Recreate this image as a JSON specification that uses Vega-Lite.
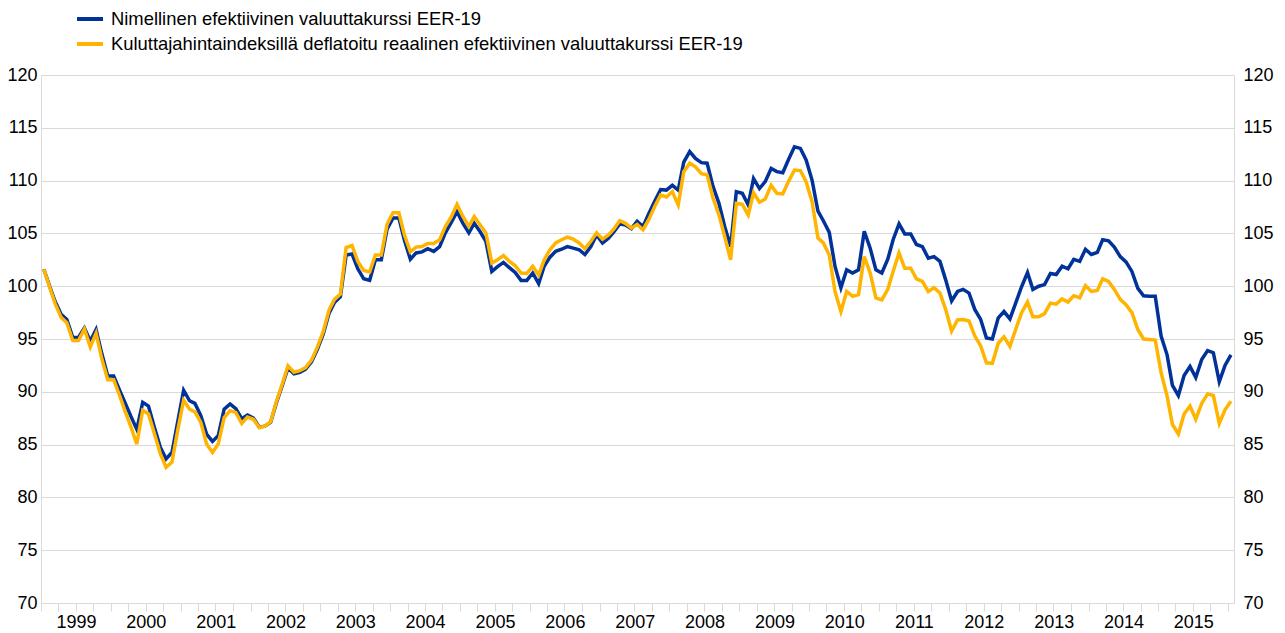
{
"$schema": "https://vega.github.io/schema/vega-lite/v6.json",
"width": 1193, "height": 528,
"autosize": {"type": "none"},
"padding": {"left": 41, "top": 75, "right": 51, "bottom": 30},
"background": "white",
"config": {"view": {"stroke": null}, "font": "Liberation Sans",
  "axis": {"labelFont": "Liberation Sans", "labelFontSize": 18, "labelColor": "#000", "title": null},
  "legend": {"labelFont": "Liberation Sans"}},
"data": {"values": [
{"d":"1999-01-16","n":101.6,"r":101.6},{"d":"1999-02-16","n":99.95,"r":99.85},{"d":"1999-03-16","n":98.55,"r":98.35},{"d":"1999-04-16","n":97.35,"r":97.05},{"d":"1999-05-16","n":96.85,"r":96.55},{"d":"1999-06-16","n":95.15,"r":94.85},{"d":"1999-07-16","n":95.15,"r":94.85},{"d":"1999-08-16","n":96.05,"r":95.95},{"d":"1999-09-16","n":94.8,"r":94.25},{"d":"1999-10-16","n":95.9,"r":95.55},{"d":"1999-11-16","n":93.55,"r":93.05},{"d":"1999-12-16","n":91.5,"r":91.15},
{"d":"2000-01-16","n":91.5,"r":91.15},{"d":"2000-02-16","n":90.15,"r":89.65},{"d":"2000-03-16","n":88.95,"r":88.15},{"d":"2000-04-16","n":87.65,"r":86.65},{"d":"2000-05-16","n":86.45,"r":85.05},{"d":"2000-06-16","n":89.0,"r":88.25},{"d":"2000-07-16","n":88.65,"r":87.9},{"d":"2000-08-16","n":86.65,"r":86.05},{"d":"2000-09-16","n":84.75,"r":84.15},{"d":"2000-10-16","n":83.65,"r":82.85},{"d":"2000-11-16","n":84.25,"r":83.35},{"d":"2000-12-16","n":87.15,"r":86.35},
{"d":"2001-01-16","n":90.15,"r":89.2},{"d":"2001-02-16","n":89.15,"r":88.35},{"d":"2001-03-16","n":88.9,"r":88.1},{"d":"2001-04-16","n":87.75,"r":87.1},{"d":"2001-05-16","n":86.0,"r":85.05},{"d":"2001-06-16","n":85.3,"r":84.25},{"d":"2001-07-16","n":85.85,"r":85.05},{"d":"2001-08-16","n":88.35,"r":87.55},{"d":"2001-09-16","n":88.85,"r":88.2},{"d":"2001-10-16","n":88.4,"r":88.05},{"d":"2001-11-16","n":87.45,"r":87.0},{"d":"2001-12-16","n":87.8,"r":87.6},
{"d":"2002-01-16","n":87.5,"r":87.4},{"d":"2002-02-16","n":86.65,"r":86.6},{"d":"2002-03-16","n":86.75,"r":86.75},{"d":"2002-04-16","n":87.1,"r":87.15},{"d":"2002-05-16","n":88.95,"r":89.05},{"d":"2002-06-16","n":90.6,"r":90.75},{"d":"2002-07-16","n":92.25,"r":92.45},{"d":"2002-08-16","n":91.7,"r":91.85},{"d":"2002-09-16","n":91.85,"r":92.0},{"d":"2002-10-16","n":92.15,"r":92.3},{"d":"2002-11-16","n":92.85,"r":93.0},{"d":"2002-12-16","n":94.0,"r":94.2},
{"d":"2003-01-16","n":95.45,"r":95.7},{"d":"2003-02-16","n":97.45,"r":97.75},{"d":"2003-03-16","n":98.45,"r":98.75},{"d":"2003-04-16","n":99.0,"r":99.25},{"d":"2003-05-16","n":102.95,"r":103.65},{"d":"2003-06-16","n":103.05,"r":103.85},{"d":"2003-07-16","n":101.65,"r":102.35},{"d":"2003-08-16","n":100.7,"r":101.5},{"d":"2003-09-16","n":100.55,"r":101.35},{"d":"2003-10-16","n":102.5,"r":102.95},{"d":"2003-11-16","n":102.5,"r":102.95},{"d":"2003-12-16","n":105.4,"r":105.85},
{"d":"2004-01-16","n":106.45,"r":106.95},{"d":"2004-02-16","n":106.45,"r":106.95},{"d":"2004-03-16","n":104.35,"r":104.85},{"d":"2004-04-16","n":102.55,"r":103.25},{"d":"2004-05-16","n":103.15,"r":103.7},{"d":"2004-06-16","n":103.25,"r":103.75},{"d":"2004-07-16","n":103.55,"r":104.05},{"d":"2004-08-16","n":103.3,"r":104.05},{"d":"2004-09-16","n":103.75,"r":104.4},{"d":"2004-10-16","n":105.05,"r":105.65},{"d":"2004-11-16","n":106.05,"r":106.55},{"d":"2004-12-16","n":107.05,"r":107.75},
{"d":"2005-01-16","n":105.95,"r":106.6},{"d":"2005-02-16","n":105.05,"r":105.65},{"d":"2005-03-16","n":105.95,"r":106.6},{"d":"2005-04-16","n":105.15,"r":105.8},{"d":"2005-05-16","n":104.25,"r":105.05},{"d":"2005-06-16","n":101.4,"r":102.2},{"d":"2005-07-16","n":101.85,"r":102.5},{"d":"2005-08-16","n":102.25,"r":102.9},{"d":"2005-09-16","n":101.75,"r":102.35},{"d":"2005-10-16","n":101.3,"r":101.95},{"d":"2005-11-16","n":100.55,"r":101.25},{"d":"2005-12-16","n":100.55,"r":101.2},
{"d":"2006-01-16","n":101.25,"r":101.9},{"d":"2006-02-16","n":100.25,"r":101.05},{"d":"2006-03-16","n":101.85,"r":102.45},{"d":"2006-04-16","n":102.75,"r":103.45},{"d":"2006-05-16","n":103.3,"r":104.1},{"d":"2006-06-16","n":103.5,"r":104.4},{"d":"2006-07-16","n":103.75,"r":104.65},{"d":"2006-08-16","n":103.6,"r":104.45},{"d":"2006-09-16","n":103.45,"r":104.1},{"d":"2006-10-16","n":103.0,"r":103.55},{"d":"2006-11-16","n":103.75,"r":104.25},{"d":"2006-12-16","n":104.85,"r":105.05},
{"d":"2007-01-16","n":104.1,"r":104.45},{"d":"2007-02-16","n":104.55,"r":104.85},{"d":"2007-03-16","n":105.15,"r":105.4},{"d":"2007-04-16","n":105.9,"r":106.2},{"d":"2007-05-16","n":105.8,"r":105.95},{"d":"2007-06-16","n":105.45,"r":105.5},{"d":"2007-07-16","n":106.15,"r":105.85},{"d":"2007-08-16","n":105.65,"r":105.35},{"d":"2007-09-16","n":106.9,"r":106.35},{"d":"2007-10-16","n":108.05,"r":107.55},{"d":"2007-11-16","n":109.15,"r":108.65},{"d":"2007-12-16","n":109.1,"r":108.45},
{"d":"2008-01-16","n":109.55,"r":108.95},{"d":"2008-02-16","n":109.1,"r":107.7},{"d":"2008-03-16","n":111.75,"r":110.85},{"d":"2008-04-16","n":112.75,"r":111.65},{"d":"2008-05-16","n":112.1,"r":111.3},{"d":"2008-06-16","n":111.7,"r":110.65},{"d":"2008-07-16","n":111.65,"r":110.55},{"d":"2008-08-16","n":109.45,"r":108.35},{"d":"2008-09-16","n":107.85,"r":106.75},{"d":"2008-10-16","n":105.65,"r":104.7},{"d":"2008-11-16","n":103.75,"r":102.5},{"d":"2008-12-16","n":108.95,"r":107.85},
{"d":"2009-01-16","n":108.8,"r":107.75},{"d":"2009-02-16","n":107.7,"r":106.75},{"d":"2009-03-16","n":110.2,"r":108.85},{"d":"2009-04-16","n":109.25,"r":107.95},{"d":"2009-05-16","n":109.9,"r":108.25},{"d":"2009-06-16","n":111.15,"r":109.55},{"d":"2009-07-16","n":110.85,"r":108.8},{"d":"2009-08-16","n":110.75,"r":108.75},{"d":"2009-09-16","n":112.05,"r":109.95},{"d":"2009-10-16","n":113.2,"r":111.0},{"d":"2009-11-16","n":113.05,"r":110.95},{"d":"2009-12-16","n":111.95,"r":109.9},
{"d":"2010-01-16","n":110.05,"r":108.0},{"d":"2010-02-16","n":107.1,"r":104.55},{"d":"2010-03-16","n":106.2,"r":104.1},{"d":"2010-04-16","n":105.1,"r":102.95},{"d":"2010-05-16","n":101.9,"r":99.5},{"d":"2010-06-16","n":99.85,"r":97.6},{"d":"2010-07-16","n":101.55,"r":99.5},{"d":"2010-08-16","n":101.25,"r":99.05},{"d":"2010-09-16","n":101.55,"r":99.2},{"d":"2010-10-16","n":105.2,"r":102.8},{"d":"2010-11-16","n":103.6,"r":101.25},{"d":"2010-12-16","n":101.55,"r":98.9},
{"d":"2011-01-16","n":101.25,"r":98.7},{"d":"2011-02-16","n":102.55,"r":99.7},{"d":"2011-03-16","n":104.4,"r":101.4},{"d":"2011-04-16","n":105.9,"r":103.15},{"d":"2011-05-16","n":104.95,"r":101.7},{"d":"2011-06-16","n":104.95,"r":101.7},{"d":"2011-07-16","n":103.95,"r":100.7},{"d":"2011-08-16","n":103.75,"r":100.45},{"d":"2011-09-16","n":102.65,"r":99.5},{"d":"2011-10-16","n":102.8,"r":99.85},{"d":"2011-11-16","n":102.35,"r":99.35},{"d":"2011-12-16","n":100.6,"r":97.8},
{"d":"2012-01-16","n":98.6,"r":95.75},{"d":"2012-02-16","n":99.5,"r":96.8},{"d":"2012-03-16","n":99.7,"r":96.85},{"d":"2012-04-16","n":99.35,"r":96.7},{"d":"2012-05-16","n":97.8,"r":95.3},{"d":"2012-06-16","n":96.85,"r":94.35},{"d":"2012-07-16","n":95.1,"r":92.75},{"d":"2012-08-16","n":95.0,"r":92.7},{"d":"2012-09-16","n":97.0,"r":94.6},{"d":"2012-10-16","n":97.6,"r":95.2},{"d":"2012-11-16","n":96.9,"r":94.3},{"d":"2012-12-16","n":98.4,"r":95.9},
{"d":"2013-01-16","n":99.95,"r":97.5},{"d":"2013-02-16","n":101.3,"r":98.5},{"d":"2013-03-16","n":99.7,"r":97.1},{"d":"2013-04-16","n":100.0,"r":97.1},{"d":"2013-05-16","n":100.15,"r":97.4},{"d":"2013-06-16","n":101.2,"r":98.4},{"d":"2013-07-16","n":101.1,"r":98.3},{"d":"2013-08-16","n":101.9,"r":98.8},{"d":"2013-09-16","n":101.65,"r":98.5},{"d":"2013-10-16","n":102.55,"r":99.1},{"d":"2013-11-16","n":102.35,"r":98.9},{"d":"2013-12-16","n":103.5,"r":100.05},
{"d":"2014-01-16","n":103.0,"r":99.5},{"d":"2014-02-16","n":103.2,"r":99.6},{"d":"2014-03-16","n":104.4,"r":100.7},{"d":"2014-04-16","n":104.3,"r":100.45},{"d":"2014-05-16","n":103.7,"r":99.7},{"d":"2014-06-16","n":102.8,"r":98.75},{"d":"2014-07-16","n":102.3,"r":98.25},{"d":"2014-08-16","n":101.4,"r":97.5},{"d":"2014-09-16","n":99.8,"r":95.9},{"d":"2014-10-16","n":99.1,"r":95.0},{"d":"2014-11-16","n":99.05,"r":94.95},{"d":"2014-12-16","n":99.05,"r":94.9},
{"d":"2015-01-16","n":95.25,"r":91.8},{"d":"2015-02-16","n":93.5,"r":89.6},{"d":"2015-03-16","n":90.6,"r":86.9},{"d":"2015-04-16","n":89.65,"r":86.0},{"d":"2015-05-16","n":91.55,"r":87.9},{"d":"2015-06-16","n":92.4,"r":88.65},{"d":"2015-07-16","n":91.35,"r":87.4},{"d":"2015-08-16","n":93.05,"r":88.9},{"d":"2015-09-16","n":93.9,"r":89.8},{"d":"2015-10-16","n":93.7,"r":89.65},{"d":"2015-11-16","n":90.95,"r":87.0},{"d":"2015-12-16","n":92.5,"r":88.3},
{"d":"2016-01-16","n":93.5,"r":89.1}
]},
"transform": [{"fold": ["n", "r"], "as": ["s", "v"]}],
"layer": [
 {"transform": [{"filter": "datum.s === 'n'"}],
  "mark": {"type": "line", "strokeWidth": 3.5},
  "encoding": {
   "x": {"field": "d", "type": "temporal",
     "scale": {"type": "utc", "domain": [{"year": 1999, "month": 1, "date": 1, "utc": true}, {"year": 2016, "month": 2, "date": 1, "utc": true}]},
     "axis": {"tickCount": {"interval": "month", "step": 3},
       "labelExpr": "utcmonth(datum.value) === 0 && utcyear(datum.value) < 2016 ? '' + utcyear(datum.value) : ''",
       "labelOffset": 35, "labelFlush": false, "labelOverlap": false, "labelBound": false,
       "grid": false, "ticks": true, "tickSize": 8, "tickColor": "#d9d9d9", "domainColor": "#d9d9d9",
       "labelPadding": 2}},
   "y": {"field": "v", "type": "quantitative",
     "scale": {"domain": [70, 120], "nice": false, "zero": false},
     "axis": {"orient": "left", "values": [70,75,80,85,90,95,100,105,110,115,120], "grid": true, "gridColor": "#d9d9d9",
       "ticks": false, "domain": true, "domainColor": "#d9d9d9", "labelPadding": 4}},
   "color": {"field": "s", "type": "nominal",
     "scale": {"domain": ["n", "r"], "range": ["#003299", "#FFB400"]},
     "legend": {"orient": "none", "legendX": 34, "legendY": -71, "title": null, "direction": "vertical",
       "symbolType": "stroke", "symbolStrokeWidth": 4, "symbolSize": 676, "labelFontSize": 18.4, "labelColor": "#000",
       "labelOffset": 6, "labelLimit": 1000, "rowPadding": 0,
       "labelExpr": "datum.label === 'n' ? 'Nimellinen efektiivinen valuuttakurssi EER-19' : 'Kuluttajahintaindeksillä deflatoitu reaalinen efektiivinen valuuttakurssi EER-19'"}}
  }},
 {"transform": [{"filter": "datum.s === 'r'"}],
  "mark": {"type": "line", "strokeWidth": 3.5},
  "encoding": {
   "x": {"field": "d", "type": "temporal",
     "scale": {"type": "utc", "domain": [{"year": 1999, "month": 1, "date": 1, "utc": true}, {"year": 2016, "month": 2, "date": 1, "utc": true}]}},
   "y": {"field": "v", "type": "quantitative",
     "scale": {"domain": [70, 120], "nice": false, "zero": false},
     "axis": {"orient": "right", "values": [70,75,80,85,90,95,100,105,110,115,120], "grid": false,
       "ticks": false, "domain": true, "domainColor": "#d9d9d9", "labelPadding": 9}},
   "color": {"field": "s", "type": "nominal",
     "scale": {"domain": ["n", "r"], "range": ["#003299", "#FFB400"]},
     "legend": {"orient": "none", "legendX": 34, "legendY": -71, "title": null, "direction": "vertical",
       "symbolType": "stroke", "symbolStrokeWidth": 4, "symbolSize": 676, "labelFontSize": 18.4, "labelColor": "#000",
       "labelOffset": 6, "labelLimit": 1000, "rowPadding": 0,
       "labelExpr": "datum.label === 'n' ? 'Nimellinen efektiivinen valuuttakurssi EER-19' : 'Kuluttajahintaindeksillä deflatoitu reaalinen efektiivinen valuuttakurssi EER-19'"}}
  }}
],
"resolve": {"axis": {"y": "independent"}}
}
